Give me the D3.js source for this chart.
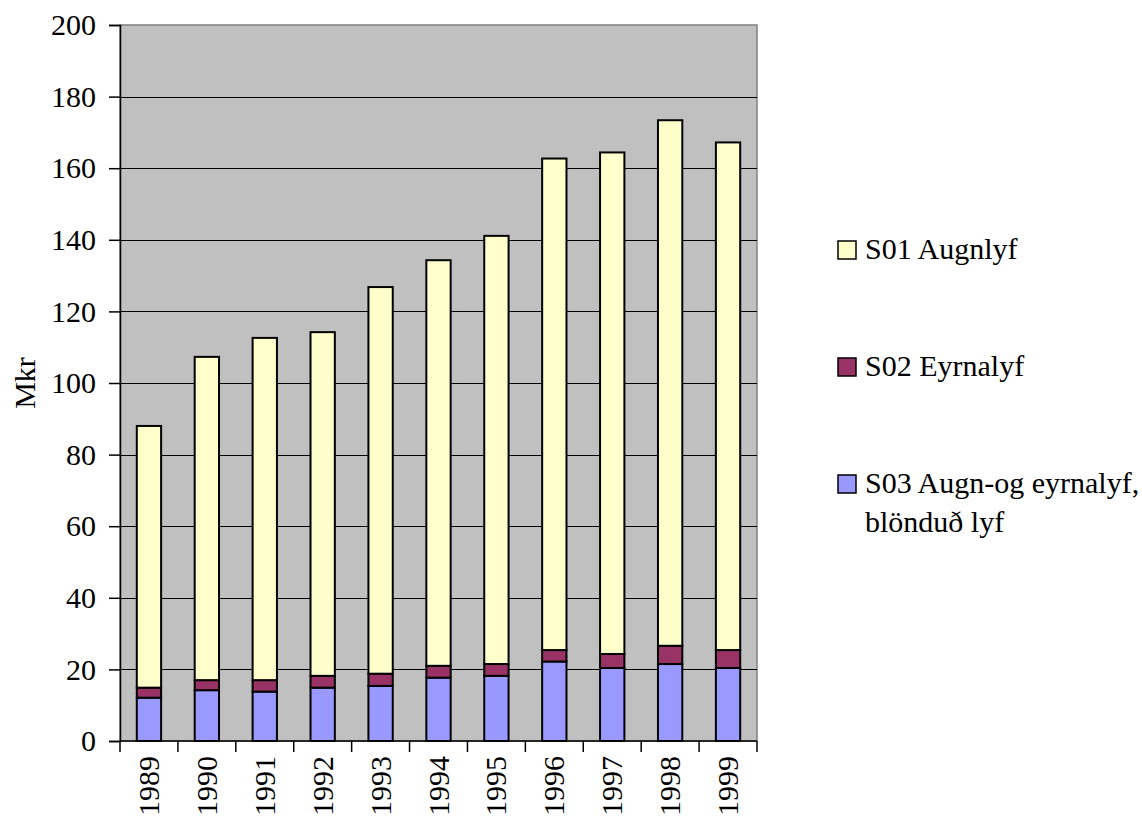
<!DOCTYPE html>
<html>
<head>
<meta charset="utf-8">
<script src="https://cdn.jsdelivr.net/npm/d3@7"></script>
</head>
<body style="margin:0">
<svg id="chart" width="1142" height="818" font-family="Liberation Serif"></svg>
<script>
// Years on the category axis
const years = ["1989","1990","1991","1992","1993","1994","1995","1996","1997","1998","1999"];

// Sales per ATC group, Mkr (stacked bottom to top: S03, S02, S01)
const s03 = [12.1, 14.2, 13.8, 14.9, 15.4, 17.7, 18.2, 22.2, 20.4, 21.5, 20.4];
const s02 = [2.8, 2.8, 3.2, 3.3, 3.4, 3.3, 3.3, 3.2, 3.9, 5.1, 5.0];
const s01 = [73.1, 90.3, 95.6, 96.0, 108.0, 113.3, 119.6, 137.3, 140.1, 146.8, 141.8];

const seriesNames = ["S01 Augnlyf", "S02 Eyrnalyf", "S03 Augn-og eyrnalyf,"];
const seriesNote = "blönduð lyf";
const yTicks = [0, 20, 40, 60, 80, 100, 120, 140, 160, 180, 200];
const yTitle = "Mkr";

const colors = { s01: "#FFFFCC", s02: "#993366", s03: "#9999FF" };
const FONT = "Liberation Serif";
const FS = 30;

const svg = d3.select("#chart");
const plot = { left: 120, right: 757, top: 25, bottom: 741 };

// apply the serif face both as attribute and inline style
function serif(sel) {
  return sel.attr("font-family", FONT).attr("font-size", FS)
    .style("font-family", '"Liberation Serif"').style("font-size", FS + "px");
}

const rows = years.map((y, i) => ({ year: y, s03: s03[i], s02: s02[i], s01: s01[i] }));
const keys = ["s03", "s02", "s01"];
const stack = d3.stack().keys(keys)(rows);

const x = d3.scaleBand().domain(years).range([plot.left, plot.right]).paddingInner(0.58).paddingOuter(0.29);
const xb = d3.scaleBand().domain(years).range([plot.left, plot.right]);
const y = d3.scaleLinear().domain([0, 200]).range([plot.bottom, plot.top]);

// plot background
svg.append("rect")
  .attr("x", plot.left).attr("y", plot.top)
  .attr("width", plot.right - plot.left).attr("height", plot.bottom - plot.top)
  .attr("fill", "#C0C0C0").attr("stroke", "#808080").attr("stroke-width", 1.5);

// gridlines
svg.append("g").selectAll("line")
  .data(yTicks.filter(t => t > 0 && t < 200))
  .join("line")
  .attr("x1", plot.left).attr("x2", plot.right)
  .attr("y1", d => Math.round(y(d)) + 0.5).attr("y2", d => Math.round(y(d)) + 0.5)
  .attr("stroke", "#000").attr("stroke-width", 1);

// stacked bars
svg.append("g").selectAll("g")
  .data(stack)
  .join("g")
  .attr("fill", d => colors[d.key])
  .selectAll("rect")
  .data(d => d)
  .join("rect")
  .attr("x", d => x(d.data.year))
  .attr("width", x.bandwidth())
  .attr("y", d => y(d[1]))
  .attr("height", d => y(d[0]) - y(d[1]))
  .attr("stroke", "#000").attr("stroke-width", 2);

// y axis
const yAxis = svg.append("g")
  .attr("transform", `translate(${plot.left},0)`)
  .call(d3.axisLeft(y).tickValues(yTicks).tickSize(11).tickPadding(13));
yAxis.attr("font-family", FONT).attr("font-size", FS);
yAxis.select(".domain").attr("stroke", "#000").attr("stroke-width", 1.5);
yAxis.selectAll(".tick line").attr("stroke", "#000").attr("stroke-width", 1.5);
serif(yAxis.selectAll(".tick text")).attr("fill", "#000");

// x axis: ticks at category boundaries
const xAxisG = svg.append("g");
xAxisG.append("line")
  .attr("x1", plot.left).attr("x2", plot.right)
  .attr("y1", plot.bottom).attr("y2", plot.bottom)
  .attr("stroke", "#000").attr("stroke-width", 1.5);
const bounds = years.map(d => xb(d)).concat([plot.right]);
xAxisG.selectAll("line.tk")
  .data(bounds)
  .join("line").attr("class", "tk")
  .attr("x1", d => d).attr("x2", d => d)
  .attr("y1", plot.bottom).attr("y2", plot.bottom + 11)
  .attr("stroke", "#000").attr("stroke-width", 1.5);
serif(xAxisG.selectAll("text")
  .data(years)
  .join("text")
  .attr("transform", d => `translate(${xb(d) + xb.bandwidth() / 2 + 10},${plot.bottom + 15}) rotate(-90)`)
  .attr("text-anchor", "end"))
  .text(d => d);

// y axis title
serif(svg.append("text")
  .attr("transform", `translate(35,${(plot.top + plot.bottom) / 2}) rotate(-90)`)
  .attr("text-anchor", "middle"))
  .text(yTitle);

// legend
const legendRows = [
  { key: "s01", label: seriesNames[0], y: 259 },
  { key: "s02", label: seriesNames[1], y: 376 },
  { key: "s03", label: seriesNames[2], y: 493 }
];
const lg = svg.append("g");
lg.selectAll("rect")
  .data(legendRows)
  .join("rect")
  .attr("x", 838).attr("y", d => d.y - 18)
  .attr("width", 18).attr("height", 18)
  .attr("fill", d => colors[d.key])
  .attr("stroke", "#000").attr("stroke-width", 1.5);
serif(lg.selectAll("text")
  .data(legendRows)
  .join("text")
  .attr("x", 865).attr("y", d => d.y))
  .text(d => d.label);
serif(lg.append("text")
  .attr("x", 865).attr("y", 532))
  .text(seriesNote);
</script>
</body>
</html>
